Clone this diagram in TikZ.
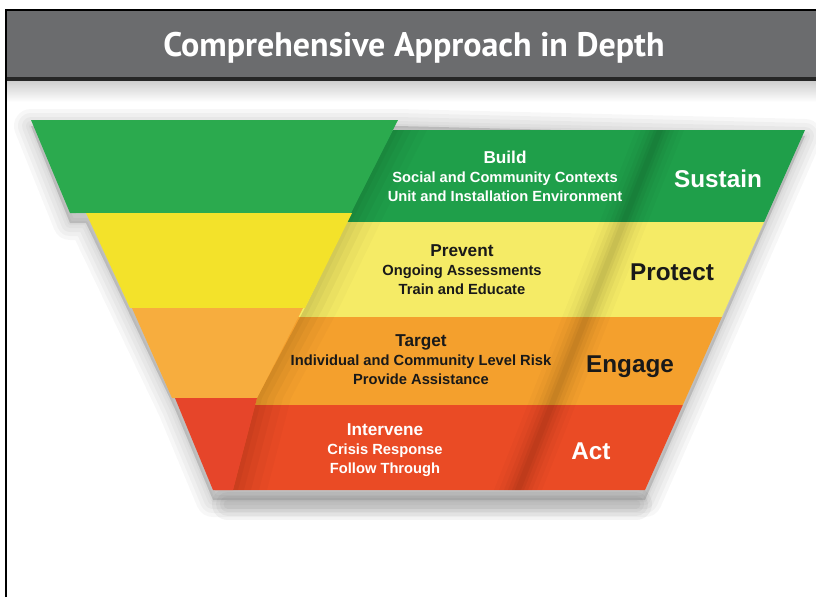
\documentclass[tikz,border=0pt]{standalone}
\usepackage{fontspec}
\setmainfont{Liberation Sans}
\newfontfamily\headfont{PT Sans}
\usepackage{tikz}
\definecolor{hdgray}{HTML}{6B6C6E}
\definecolor{greenA}{HTML}{2BAA4E}
\definecolor{greenB}{HTML}{1F9F4A}
\definecolor{yellowA}{HTML}{F3E22A}
\definecolor{yellowB}{HTML}{F5EB66}
\definecolor{orangeA}{HTML}{F7AD3E}
\definecolor{orangeB}{HTML}{F4A02D}
\definecolor{redA}{HTML}{E6452A}
\definecolor{redB}{HTML}{EA4B25}
\newcommand{\fsz}[1]{\fontsize{#1}{19}\selectfont}

\begin{document}
\begin{tikzpicture}[x=1pt,y=-1pt,
  lines/.style={font=\bfseries\fsz{14.7},align=center,inner sep=0pt},
  tag/.style={font=\bfseries\fsz{24.3},inner sep=0pt,anchor=base}]
  \useasboundingbox (0,0) rectangle (816,597);
  \fill[white] (0,0) rectangle (816,597);
  \shade[top color=black!20,bottom color=white] (7,80) rectangle (816,102);
  \fill[hdgray] (7,10) rectangle (816,77);
  \fill[black!85] (7,77) rectangle (816,81);
  \draw[line width=2pt] (6,597) -- (6,10) -- (816,10);
  \node[font=\headfont\bfseries\fontsize{34}{34}\selectfont,text=white,anchor=base] (title) at (414,56.5) {Comprehensive Approach in Depth};

  \foreach \w in {34,26,18,10,4}
    \filldraw[black!70,opacity=0.045,line width=\w pt,line join=round]
      (31,126) -- (398,126) -- (805,136) -- (645,500) -- (213,500) -- (175,409)
      -- (132,319) -- (86,223) -- (70,223) -- cycle;
  \foreach \w in {32,24,16,9}
    \draw[black!70,opacity=0.06,line width=\w pt,line cap=round] (228,504) -- (636,504);

  \fill[greenB] (340,200) -- (393,130) -- (805,130) -- (764.1,222) -- (340,222) -- cycle;
  \fill[yellowB] (290,300) -- (340,222) -- (764.1,222) -- (721.9,317) -- (290,317) -- cycle;
  \fill[orangeB] (240,390) -- (290,317) -- (721.9,317) -- (682.8,405) -- (240,405) -- cycle;
  \fill[redB] (215,480) -- (240,405) -- (682.8,405) -- (645,490) -- (215,490) -- cycle;
  \foreach \w/\o in {24/0.02,19/0.025,14/0.03,10/0.035,6/0.04,3/0.04}
    \fill[black,opacity=\o] (660-\w,130) -- (660+\w,130) -- (518+\w,490) -- (518-\w,490) -- cycle;
  \foreach \w/\o in {34/0.02,26/0.025,18/0.03,11/0.03,5/0.03}
    \fill[black,opacity=\o] (393,130) -- (393+\w,130) -- (351+\w,213) -- (305+\w,308) -- (257+\w,398)
      -- (233+\w,490) -- (233,490) -- (257,398) -- (305,308) -- (351,213) -- cycle;

  \fill[greenA] (31,120) -- (398,120) -- (351,213) -- (70,213) -- cycle;
  \fill[yellowA] (86,213) -- (352,213) -- (305,308) -- (130,308) -- cycle;
  \fill[orangeA] (132,308) -- (303,308) -- (257,398) -- (172,398) -- cycle;
  \fill[redA] (175,398) -- (257,398) -- (233,490) -- (213,490) -- cycle;

  \node[lines,text=white] (build) at (505,176) {{\fsz{17.2}Build}\\Social and Community Contexts\\Unit and Installation Environment};
  \node[lines,text=black!90] (prevent) at (462,270) {{\fsz{17.2}Prevent}\\Ongoing Assessments\\Train and Educate};
  \node[lines,text=black!90] (target) at (421,360) {{\fsz{17.2}Target}\\Individual and Community Level Risk\\Provide Assistance};
  \node[lines,text=white] (intervene) at (385,450) {{\fsz{17.2}Intervene}\\Crisis Response\\Follow Through};

  \node[tag,text=white] (sustain) at (718,187) {Sustain};
  \node[tag,text=black!90] (protect) at (672,280.5) {Protect};
  \node[tag,text=black!90] (engage) at (630,372) {Engage};
  \node[tag,text=white] (act) at (591,459.5) {Act};
\end{tikzpicture}
\end{document}
